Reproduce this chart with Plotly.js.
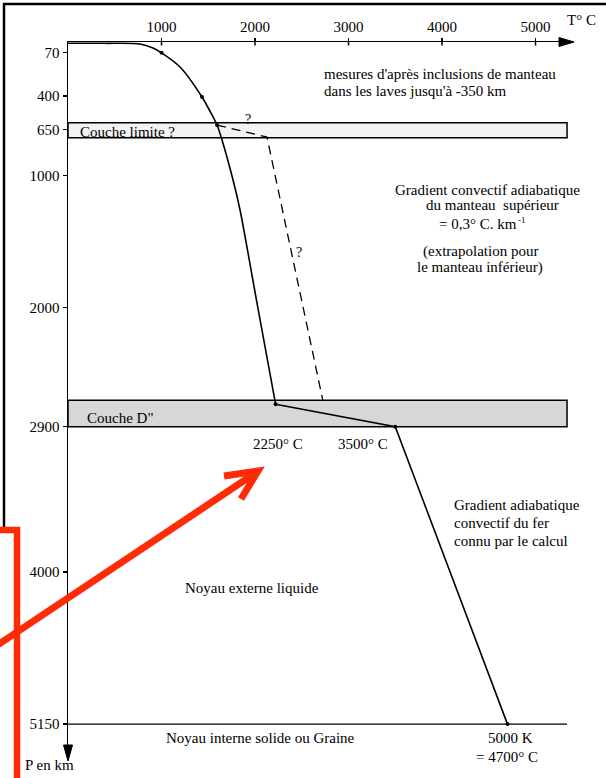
<!DOCTYPE html>
<html><head><meta charset="utf-8">
<script src="https://cdn.plot.ly/plotly-3.0.1.min.js"></script>
<style>html,body{margin:0;padding:0;background:#fff}#chart{width:606px;height:778px}</style>
</head><body><div id="chart"></div>
<script>
// ---- Data (temperature in °C, depth in km) ----
const geothermT     = [0, 400, 770, 909, 1000, 1198, 1433, 1551, 1594, 1647, 1765, 1840, 2021, 2220];
const geothermDepth = [0, 0, 5, 36, 72, 179, 406, 557, 618, 731, 1034, 1261, 1964, 2730];
const coreT     = [2220, 3500, 4700];
const coreDepth = [2730, 2900, 5150];
const hypoT     = [1594, 2128, 2725];
const hypoDepth = [618, 709, 2700];
const pointT     = [1000, 1433, 1594, 2220, 3500, 4700];
const pointDepth = [72, 406, 618, 2730, 2900, 5150];
const tempTicks  = [1000, 2000, 3000, 4000, 5000];
const depthTicks = [70, 400, 650, 1000, 2000, 2900, 4000, 5150];
const layerNames  = ['Couche limite ?', 'Couche D"'];
const layerTop    = [600, 2700];
const layerBottom = [715, 2900];
const innerCoreDepth = 5150;

// ---- Geometry helpers (pixel -> paper) ----
const L = 68, R = 572, T = 42, B = 752, W = R - L, H = B - T;
const px = x => (x - L) / W;
const py = y => (B - y) / H;
const FONT = 'Liberation Serif, Times New Roman, serif';
const layerRight = 5337;

const traces = [
  {x: geothermT, y: geothermDepth, mode: 'lines', line: {color: '#000', width: 1.6, shape: 'spline', smoothing: 0.8}, hoverinfo: 'skip'},
  {x: coreT, y: coreDepth, mode: 'lines', line: {color: '#000', width: 1.6}, hoverinfo: 'skip'},
  {x: hypoT, y: hypoDepth, mode: 'lines', line: {color: '#000', width: 1.3, dash: '9px,6px'}, hoverinfo: 'skip'},
  {x: pointT, y: pointDepth, mode: 'markers', marker: {color: '#000', size: 4}, hoverinfo: 'skip'}
];

const shapes = [];
const fills = ['#f3f3f3', '#d7d7d7'];
layerTop.forEach((t, i) => {
  shapes.push({type: 'rect', xref: 'x', yref: 'y', x0: 0, x1: layerRight, y0: t, y1: layerBottom[i],
    fillcolor: fills[i], line: {color: '#000', width: 1.5}, layer: 'below'});
});
shapes.push({type: 'line', xref: 'x', yref: 'y', x0: 0, x1: layerRight, y0: innerCoreDepth, y1: innerCoreDepth,
  line: {color: '#000', width: 1.3}, layer: 'below'});
// x ticks crossing the axis line
tempTicks.forEach(t => {
  shapes.push({type: 'line', xref: 'x', yref: 'paper', x0: t, x1: t, y0: py(42), y1: py(45.5),
    line: {color: '#000', width: 1.5}});
});
// axis arrowheads
shapes.push({type: 'path', xref: 'paper', yref: 'paper',
  path: `M ${px(559)},${py(37.5)} L ${px(574)},${py(42)} L ${px(559)},${py(46.5)} Z`,
  fillcolor: '#000', line: {color: '#000', width: 1}});
shapes.push({type: 'path', xref: 'paper', yref: 'paper',
  path: `M ${px(63.5)},${py(745)} L ${px(72.5)},${py(745)} L ${px(68)},${py(761)} Z`,
  fillcolor: '#000', line: {color: '#000', width: 1}});
shapes.push({type: 'line', xref: 'paper', yref: 'paper', x0: px(68), x1: px(68), y0: py(752), y1: py(746),
  line: {color: '#000', width: 1.5}});
// scanned page border
shapes.push({type: 'line', xref: 'paper', yref: 'paper', x0: px(3), x1: px(606), y0: py(4), y1: py(4),
  line: {color: '#000', width: 2.5}});
shapes.push({type: 'line', xref: 'paper', yref: 'paper', x0: px(4), x1: px(4), y0: py(3), y1: py(530),
  line: {color: '#000', width: 2.5}});
// red overlay marks
const RED = '#ff2a06';
shapes.push({type: 'path', xref: 'paper', yref: 'paper',
  path: `M ${px(-2)},${py(530)} L ${px(17)},${py(530)} L ${px(17)},${py(782)}`,
  line: {color: RED, width: 6.5}});
shapes.push({type: 'path', xref: 'paper', yref: 'paper',
  path: `M ${px(-4)},${py(646)} L ${px(257)},${py(472)}`,
  line: {color: RED, width: 7}});
shapes.push({type: 'path', xref: 'paper', yref: 'paper',
  path: `M ${px(224)},${py(476)} L ${px(258)},${py(471)} L ${px(241)},${py(499)}`,
  line: {color: RED, width: 7}});

function ann(x, y, text, xanchor, size) {
  return {xref: 'paper', yref: 'paper', x: px(x), y: py(y), text: text, showarrow: false,
    xanchor: xanchor || 'center', yanchor: 'middle',
    font: {family: FONT, size: size || 15, color: '#000'}};
}
const annotations = [
  ann(581, 20, 'T° C'),
  ann(49, 765, 'P en km'),
  ann(322, 74, "mesures d'après inclusions de manteau", 'left'),
  ann(322, 91, "dans les laves jusqu'à -350 km", 'left'),
  ann(487, 190, 'Gradient convectif adiabatique'),
  ann(492, 205, 'du manteau  supérieur'),
  ann(437, 224, '= 0,3° C. km', 'left'),
  ann(516, 220, '-1', 'left', 9),
  ann(480, 251, '(extrapolation pour'),
  ann(480, 267, 'le manteau inférieur)'),
  ann(78, 132, layerNames[0], 'left'),
  ann(85, 418, layerNames[1], 'left'),
  ann(248, 120, '?', 'center', 14),
  ann(299, 252, '?', 'center', 14),
  ann(278, 444, '2250° C'),
  ann(363, 444, '3500° C'),
  ann(452, 505, 'Gradient adiabatique', 'left'),
  ann(452, 523, 'convectif du fer', 'left'),
  ann(452, 541, 'connu par le calcul', 'left'),
  ann(183, 588, 'Noyau externe liquide', 'left'),
  ann(164, 738, 'Noyau interne solide ou Graine', 'left'),
  ann(510, 738, '5000 K'),
  ann(507, 757, '= 4700° C')
];

const layout = {
  width: 606, height: 778,
  margin: {l: L, r: 606 - R, t: T, b: 778 - B, pad: 0},
  paper_bgcolor: '#fff', plot_bgcolor: '#fff',
  showlegend: false,
  xaxis: {side: 'top', range: [0, 5390], tickvals: tempTicks, ticktext: tempTicks.map(String),
    ticks: 'outside', ticklen: 3, tickwidth: 1.5, tickcolor: '#000',
    showline: true, linewidth: 1.5, linecolor: '#000', showgrid: false, zeroline: false,
    tickfont: {family: FONT, size: 15, color: '#000'}, fixedrange: true},
  yaxis: {range: [5361, -10], tickvals: depthTicks, ticktext: depthTicks.map(String),
    ticks: 'outside', ticklen: 4, tickwidth: 1.5, tickcolor: '#000',
    showline: true, linewidth: 1.5, linecolor: '#000', showgrid: false, zeroline: false,
    tickfont: {family: FONT, size: 15, color: '#000'}, fixedrange: true},
  shapes: shapes,
  annotations: annotations
};
Plotly.newPlot('chart', traces, layout, {displayModeBar: false, staticPlot: true});
</script>
</body></html>
